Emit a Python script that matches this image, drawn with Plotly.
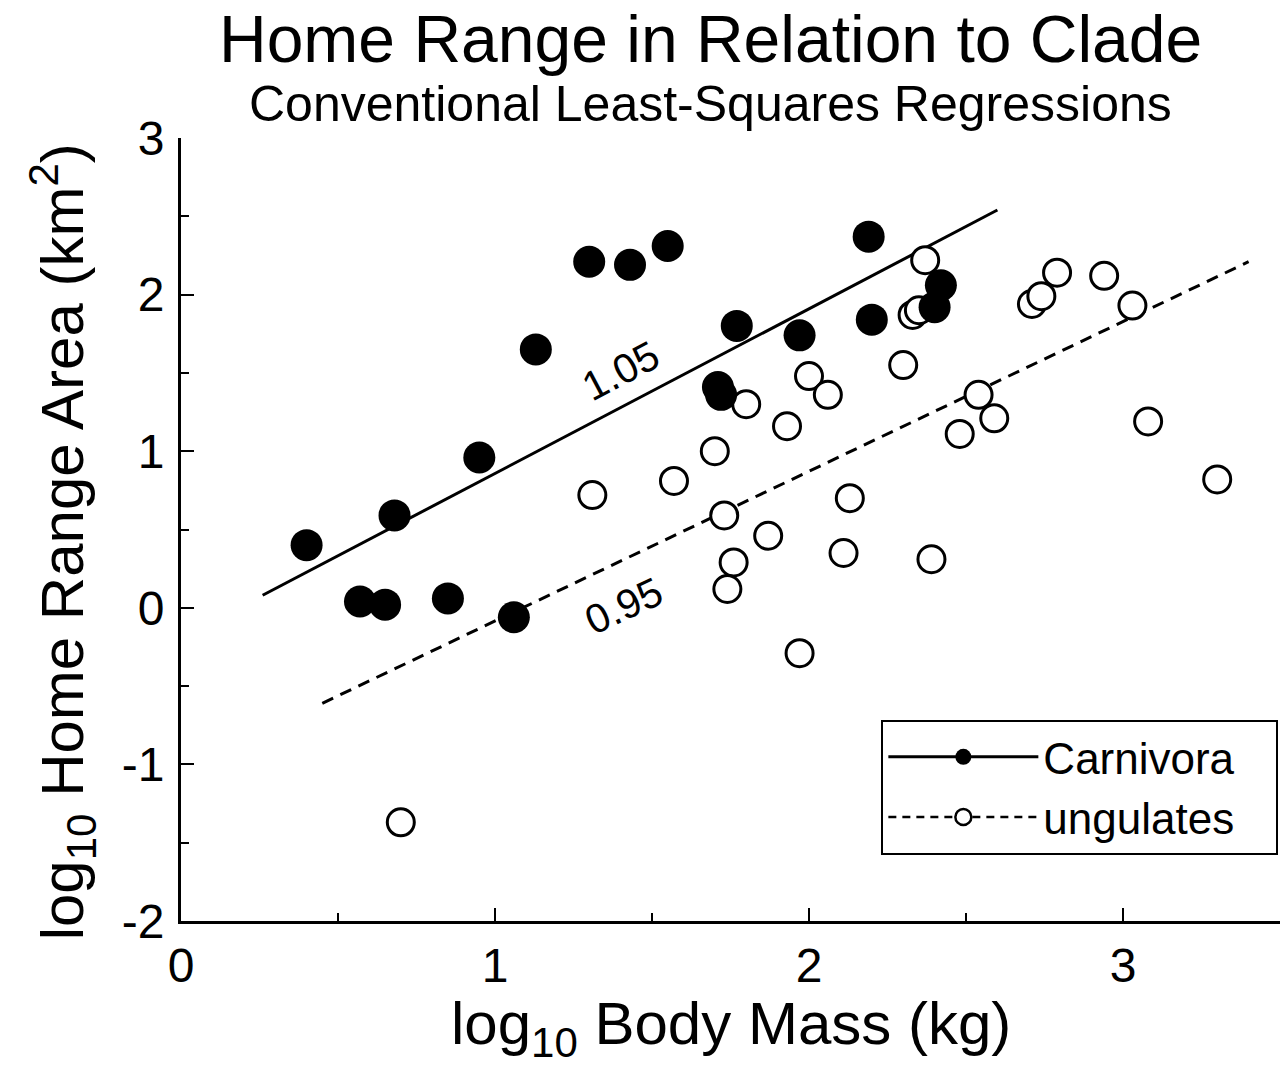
import plotly.graph_objects as go

# ---- data (log10 body mass kg, log10 home range km^2) ----
carn_x = [0.40, 0.57, 0.65, 0.68, 0.85, 0.95, 1.06, 1.13, 1.30, 1.43, 1.55,
          1.71, 1.72, 1.77, 1.97, 2.19, 2.20, 2.40, 2.42]
carn_y = [0.40, 0.04, 0.02, 0.59, 0.06, 0.96, -0.06, 1.65, 2.21, 2.19, 2.31,
          1.41, 1.36, 1.80, 1.74, 2.37, 1.84, 1.92, 2.06]

ung_x = [0.70, 1.31, 1.57, 1.70, 1.73, 1.76, 1.74, 1.80, 1.87, 1.93, 1.97,
         2.00, 2.06, 2.11, 2.13, 2.30, 2.33, 2.35, 2.37, 2.39, 2.48, 2.54,
         2.59, 2.71, 2.74, 2.79, 2.94, 3.03, 3.08, 3.30]
ung_y = [-1.37, 0.72, 0.81, 1.00, 0.59, 0.29, 0.12, 1.30, 0.46, 1.16, -0.29,
         1.48, 1.36, 0.35, 0.70, 1.55, 1.87, 1.90, 2.22, 0.31, 1.11, 1.36,
         1.21, 1.94, 1.99, 2.14, 2.12, 1.93, 1.19, 0.82]

# least-squares fit lines (end points)
carn_fit_x = [0.26, 2.60]
carn_fit_y = [0.08, 2.54]
ung_fit_x = [0.45, 3.40]
ung_fit_y = [-0.61, 2.21]

slope_labels = ["1.05", "0.95"]
slope_label_x = [1.40, 1.41]
slope_label_y = [1.51, 0.01]

series_names = ["Carnivora", "ungulates"]

x_ticks = [0, 1, 2, 3]
x_ticktext = ["0", "1", "2", "3"]
y_ticks = [-2, -1, 0, 1, 2, 3]
y_ticktext = ["-2", "-1", "0", "1", "2", "3"]

FONT = "Liberation Sans, Arial, Helvetica, sans-serif"
PAD = "\u00a0\u00a0\u00a0"

fig = go.Figure()

# fit lines
fig.add_trace(go.Scatter(x=carn_fit_x, y=carn_fit_y, mode="lines",
                         line=dict(color="black", width=3), showlegend=False,
                         hoverinfo="skip"))
fig.add_trace(go.Scatter(x=ung_fit_x, y=ung_fit_y, mode="lines",
                         line=dict(color="black", width=3, dash="12px,8px"),
                         showlegend=False, hoverinfo="skip"))

# points
fig.add_trace(go.Scatter(x=ung_x, y=ung_y, mode="markers", name=series_names[1],
                         marker=dict(symbol="circle", size=27, color="white",
                                     line=dict(color="black", width=3)),
                         showlegend=False))
fig.add_trace(go.Scatter(x=carn_x, y=carn_y, mode="markers", name=series_names[0],
                         marker=dict(symbol="circle", size=32, color="black",
                                     line=dict(color="black", width=0)),
                         showlegend=False))

# legend entries
fig.add_trace(go.Scatter(x=[None], y=[None], mode="lines+markers",
                         name=series_names[0] + PAD,
                         line=dict(color="black", width=3),
                         marker=dict(symbol="circle", size=32, color="black")))
fig.add_trace(go.Scatter(x=[None], y=[None], mode="lines+markers",
                         name=series_names[1] + PAD,
                         line=dict(color="black", width=2.5, dash="8px,6px"),
                         marker=dict(symbol="circle", size=27, color="white",
                                     line=dict(color="black", width=2.5))))

axis_common = dict(
    showline=True, linecolor="black", linewidth=3, mirror=False,
    showgrid=False, zeroline=False,
    ticks="inside", ticklen=13, tickwidth=2, tickcolor="black",
    tickfont=dict(family=FONT, size=48, color="black"),
)

fig.update_xaxes(range=[0, 3.5], tickvals=x_ticks, ticktext=x_ticktext,
                 ticklabelstandoff=0,
                 minor=dict(ticks="inside", ticklen=8, tickwidth=2,
                            tickcolor="black", dtick=0.5, tick0=0),
                 **axis_common)
fig.update_yaxes(range=[-2, 3], tickvals=y_ticks, ticktext=y_ticktext,
                 ticklabelstandoff=4,
                 minor=dict(ticks="inside", ticklen=8, tickwidth=2,
                            tickcolor="black", dtick=0.5, tick0=0),
                 **axis_common)

annotations = [
    dict(text="Home Range in Relation to Clade", xref="paper", yref="paper",
         x=0.482, y=1.126, xanchor="center", yanchor="middle", showarrow=False,
         font=dict(family=FONT, size=66, color="black")),
    dict(text="Conventional Least-Squares Regressions", xref="paper", yref="paper",
         x=0.482, y=1.043, xanchor="center", yanchor="middle", showarrow=False,
         font=dict(family=FONT, size=50, color="black")),
    dict(text="log<sub>10</sub> Body Mass (kg)", xref="paper", yref="paper",
         x=0.5, y=-0.137, xanchor="center", yanchor="middle", showarrow=False,
         font=dict(family=FONT, size=60, color="black")),
    dict(text="log<sub>10</sub> Home Range Area (km<sup>2</sup>)", xref="paper",
         yref="paper", x=-0.108, y=0.484, xanchor="center", yanchor="middle",
         textangle=-90, showarrow=False,
         font=dict(family=FONT, size=60, color="black")),
]
angles = [-28, -25]
for t, x, y, a in zip(slope_labels, slope_label_x, slope_label_y, angles):
    annotations.append(dict(text=t, x=x, y=y, xref="x", yref="y", showarrow=False,
                            textangle=a, xanchor="center", yanchor="middle",
                            font=dict(family=FONT, size=41, color="black")))

fig.update_layout(
    width=1282, height=1065,
    margin=dict(l=181, r=2, t=138, b=144),
    paper_bgcolor="white", plot_bgcolor="white",
    font=dict(family=FONT, color="black"),
    annotations=annotations,
    legend=dict(x=0.9985, y=0.257, xanchor="right", yanchor="top",
                bgcolor="white", bordercolor="black", borderwidth=2,
                font=dict(family=FONT, size=44, color="black"),
                itemwidth=150, tracegroupgap=8),
)

fig.write_html("out.html")
